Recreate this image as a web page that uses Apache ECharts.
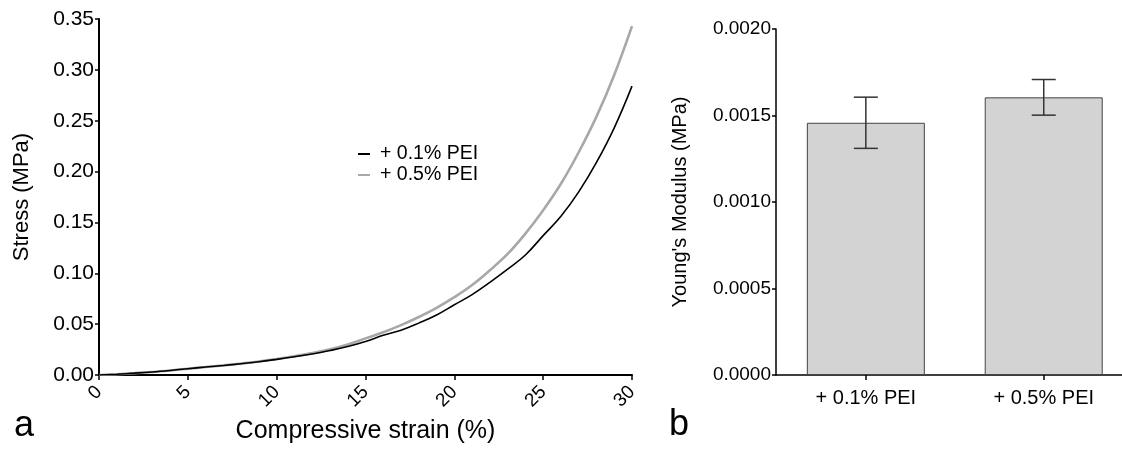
<!DOCTYPE html>
<html>
<head>
<meta charset="utf-8">
<script src="https://cdn.jsdelivr.net/npm/echarts@6/dist/echarts.min.js"></script>
<style>
html,body{margin:0;padding:0;background:#fff;}
#c{width:1122px;height:449px;}
</style>
</head>
<body>
<div id="c"></div>
<script>
// ---- Data ----
const strain = [0,1,2,3,4,5,6,7,8,9,10,11,12,13,14,15,16,17,18,19,20,21,22,23,24,25,26,27,28,29,30];
const stressPEI01 = [0,0.0008,0.0018,0.003,0.0045,0.0062,0.0078,0.0094,0.0111,0.013,0.0154,0.018,0.0206,0.024,0.028,0.033,0.039,0.044,0.051,0.059,0.069,0.079,0.091,0.104,0.118,0.137,0.156,0.180,0.209,0.243,0.284];
const stressPEI05 = [0,0.0008,0.0018,0.003,0.0045,0.0062,0.0078,0.0095,0.0113,0.0133,0.0158,0.0185,0.0215,0.0252,0.030,0.036,0.042,0.049,0.057,0.066,0.0765,0.0885,0.103,0.119,0.139,0.162,0.188,0.219,0.254,0.295,0.343];
const seriesNames = ['+ 0.1% PEI', '+ 0.5% PEI'];
const barCategories = ['+ 0.1% PEI', '+ 0.5% PEI'];
const modulusMean = [0.001458, 0.001605];
const modulusSD = [0.000148, 0.000103];
const stressTicks = [0, 0.05, 0.10, 0.15, 0.20, 0.25, 0.30, 0.35];
const strainTicks = [0, 5, 10, 15, 20, 25, 30];
const modulusTicks = [0, 0.0005, 0.0010, 0.0015, 0.0020];

const FONT = '"Liberation Sans", Arial, sans-serif';
const chart = echarts.init(document.getElementById('c'), null, {renderer: 'canvas'});

const pairs = (xs, ys) => xs.map((x, i) => [x, ys[i]]);
const catIdx = barCategories.map((c, i) => i);

const option = {
  animation: false,
  backgroundColor: '#fff',
  textStyle: {fontFamily: FONT, color: '#000'},
  grid: [
    {left: 99, top: 19, right: 490, bottom: 74},
    {left: 776, top: 29, right: 0, bottom: 74}
  ],
  legend: {
    data: seriesNames,
    orient: 'vertical',
    left: 358, top: 144, padding: 0,
    icon: 'rect', itemWidth: 12, itemHeight: 2, itemGap: 1,
    textStyle: {fontFamily: FONT, fontSize: 19.5, color: '#000', padding: [0,0,0,5]}
  },
  xAxis: [
    {
      gridIndex: 0, type: 'value',
      min: strainTicks[0], max: strainTicks[strainTicks.length-1], interval: 5,
      name: 'Compressive strain (%)', nameLocation: 'middle', nameGap: 44,
      nameTextStyle: {fontFamily: FONT, fontSize: 25, color: '#000'},
      axisLine: {show: true, lineStyle: {color: '#000', width: 2}},
      axisTick: {show: true, length: 5, lineStyle: {color: '#000', width: 1.5}},
      axisLabel: {fontFamily: FONT, fontSize: 19, color: '#000', rotate: 45, margin: 14},
      splitLine: {show: false}
    },
    {
      gridIndex: 1, type: 'value', min: -0.505, max: 1.44,
      axisLine: {show: true, onZero: false, lineStyle: {color: '#000', width: 1.5}},
      axisTick: {show: true, customValues: catIdx, length: 5, lineStyle: {color: '#000', width: 1.5}},
      axisLabel: {fontFamily: FONT, fontSize: 20, color: '#000', margin: 13, customValues: catIdx,
                  formatter: v => barCategories[Math.round(v)] || ''},
      splitLine: {show: false}
    }
  ],
  yAxis: [
    {
      gridIndex: 0, type: 'value',
      min: stressTicks[0], max: stressTicks[stressTicks.length-1], interval: 0.05,
      name: 'Stress (MPa)', nameLocation: 'middle', nameGap: 66,
      nameTextStyle: {fontFamily: FONT, fontSize: 22, color: '#000'},
      axisLine: {show: true, lineStyle: {color: '#000', width: 2}},
      axisTick: {show: true, length: 4, lineStyle: {color: '#000', width: 1.5}},
      axisLabel: {fontFamily: FONT, fontSize: 21, color: '#000', margin: 5, formatter: v => v.toFixed(2)},
      splitLine: {show: false}
    },
    {
      gridIndex: 1, type: 'value',
      min: modulusTicks[0], max: modulusTicks[modulusTicks.length-1], interval: 0.0005,
      name: "Young's Modulus (MPa)", nameLocation: 'middle', nameGap: 86,
      nameTextStyle: {fontFamily: FONT, fontSize: 20, color: '#000'},
      axisLine: {show: true, onZero: false, lineStyle: {color: '#000', width: 1.5}},
      axisTick: {show: true, length: 4, lineStyle: {color: '#000', width: 1.5}},
      axisLabel: {fontFamily: FONT, fontSize: 19, color: '#000', margin: 5, formatter: v => v.toFixed(4)},
      splitLine: {show: false}
    }
  ],
  series: [
    {
      name: seriesNames[0], type: 'line', xAxisIndex: 0, yAxisIndex: 0,
      data: pairs(strain, stressPEI01), showSymbol: false, smooth: 0.4, z: 3,
      lineStyle: {color: '#000', width: 1.6}, itemStyle: {color: '#000'}
    },
    {
      name: seriesNames[1], type: 'line', xAxisIndex: 0, yAxisIndex: 0,
      data: pairs(strain, stressPEI05), showSymbol: false, smooth: 0.4, z: 2,
      lineStyle: {color: '#a8a8a8', width: 2.6}, itemStyle: {color: '#a8a8a8'}
    },
    {
      type: 'bar', xAxisIndex: 1, yAxisIndex: 1,
      data: pairs(catIdx, modulusMean), barWidth: 118,
      itemStyle: {color: '#d3d3d3', borderColor: '#444', borderWidth: 1}
    },
    {
      type: 'custom', xAxisIndex: 1, yAxisIndex: 1, z: 5,
      data: modulusMean.map((m, i) => [i, m - modulusSD[i], m + modulusSD[i]]),
      renderItem: function (params, api) {
        const lo = api.coord([api.value(0), api.value(1)]);
        const hi = api.coord([api.value(0), api.value(2)]);
        const half = 12;
        const st = {stroke: '#333', lineWidth: 1.5};
        return {
          type: 'group',
          children: [
            {type: 'line', shape: {x1: hi[0], y1: hi[1], x2: lo[0], y2: lo[1]}, style: st},
            {type: 'line', shape: {x1: hi[0]-half, y1: hi[1], x2: hi[0]+half, y2: hi[1]}, style: st},
            {type: 'line', shape: {x1: lo[0]-half, y1: lo[1], x2: lo[0]+half, y2: lo[1]}, style: st}
          ]
        };
      }
    }
  ],
  graphic: [
    {type: 'text', left: 14, top: 408, style: {text: 'a', font: '36px "Liberation Sans", Arial, sans-serif', fill: '#000'}},
    {type: 'text', left: 669, top: 407, style: {text: 'b', font: '36px "Liberation Sans", Arial, sans-serif', fill: '#000'}}
  ]
};
chart.setOption(option);
</script>
</body>
</html>
